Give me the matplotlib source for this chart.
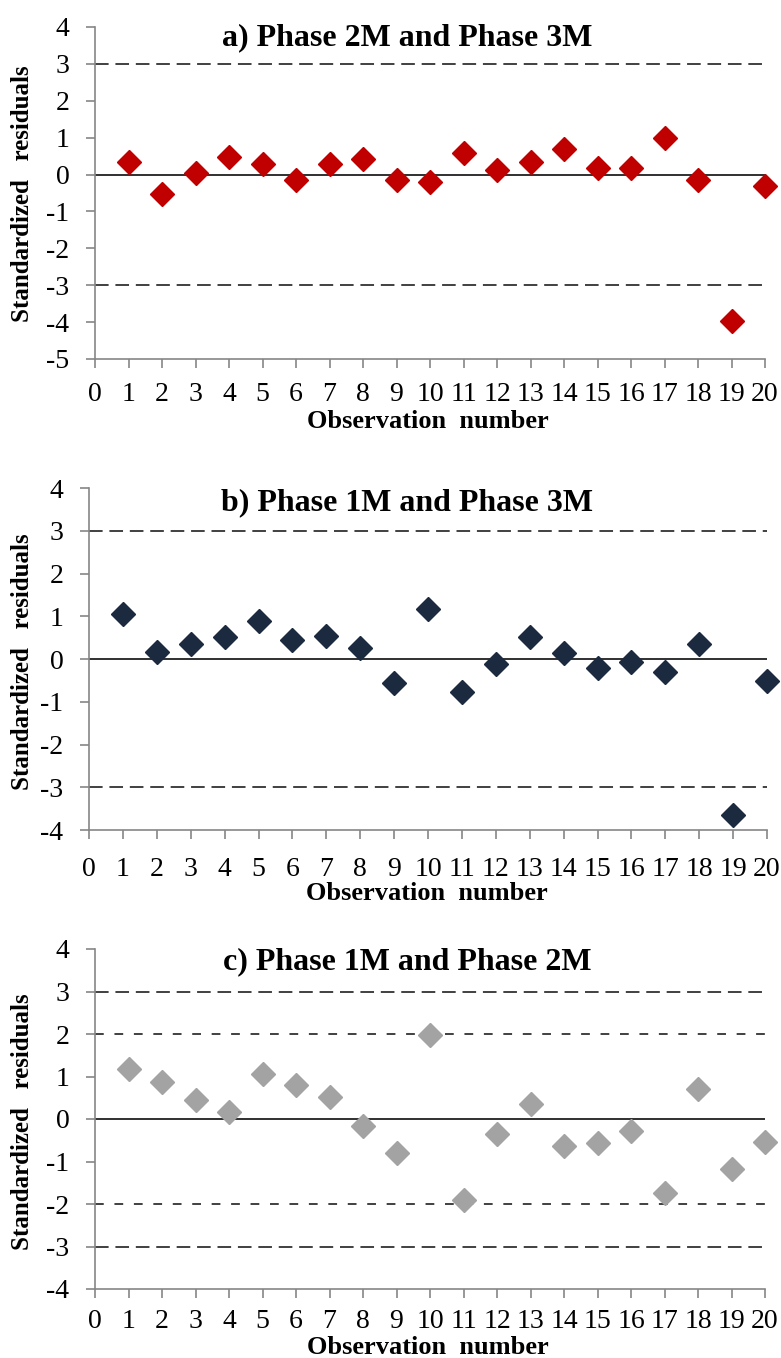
import matplotlib
matplotlib.use("Agg")
import matplotlib.pyplot as plt
import numpy as np

obs = list(range(1, 21))
res_a = [0.35, -0.52, 0.04, 0.47, 0.29, -0.14, 0.29, 0.41, -0.14, -0.21,
         0.59, 0.11, 0.35, 0.69, 0.17, 0.17, 0.99, -0.14, -3.97, -0.32]
res_b = [1.05, 0.17, 0.35, 0.51, 0.90, 0.45, 0.54, 0.25, -0.55, 1.16,
         -0.77, -0.12, 0.51, 0.15, -0.20, -0.06, -0.30, 0.35, -3.64, -0.51]
res_c = [1.18, 0.86, 0.45, 0.16, 1.07, 0.81, 0.51, -0.16, -0.80, 1.97,
         -1.90, -0.35, 0.36, -0.64, -0.56, -0.29, -1.73, 0.71, -1.17, -0.55]

titles = ["a) Phase 2M and Phase 3M", "b) Phase 1M and Phase 3M", "c) Phase 1M and Phase 2M"]
colors = ["#C00000", "#1C2A40", "#A3A3A3"]
ylims = [(-5, 4), (-4, 4), (-4, 4)]
limits = [[-3, 3], [-3, 3], [-3, 3]]
inner_limits = [[], [], [-2, 2]]
series = [res_a, res_b, res_c]

plt.rcParams['font.family'] = ['Liberation Serif', 'DejaVu Serif']
plt.rcParams['axes.unicode_minus'] = False

W, H = 781, 1358
fig = plt.figure(figsize=(W / 100, H / 100), dpi=100)

# pixel boxes: left, right, top, bottom
boxes = [(95, 765, 27, 359), (89, 767, 488, 830), (95, 765, 949, 1289)]
title_pos = [(407, 38), (407, 503), (407, 962)]
ylab_pos = [(23, 194), (23, 662), (23, 1122)]
xlab_pos = [(428, 422), (427, 893), (428, 1348)]
xtick_pad = [10, 13, 8]

for i in range(3):
    l, r, t, b = boxes[i]
    ax = fig.add_axes([l / W, 1 - b / H, (r - l) / W, (b - t) / H])
    ax.set_xlim(0, 20)
    ax.set_ylim(*ylims[i])
    for y in limits[i]:
        ax.axhline(y, color="#404040", lw=1.4, ls=(0, (7, 3.5)), zorder=1)
    for y in inner_limits[i]:
        ax.axhline(y, color="#404040", lw=1.4, ls=(0, (4.5, 5.5)), zorder=1)
    ax.axhline(0, color="#303030", lw=1.4, zorder=1)
    ax.plot(obs, series[i], ls="none", marker="D", ms=12.5, color=colors[i],
            mec=colors[i], zorder=3, clip_on=False)
    for s in ["top", "right"]:
        ax.spines[s].set_visible(False)
    for s in ["left", "bottom"]:
        ax.spines[s].set_color("#868686")
        ax.spines[s].set_linewidth(1.2)
    ax.set_xticks(range(0, 21))
    ax.set_yticks(range(ylims[i][0], ylims[i][1] + 1))
    ax.tick_params(axis="both", colors="#868686", length=6.5, width=1.2,
                   labelcolor="black", labelsize=20)
    ax.tick_params(axis="y", pad=12)
    ax.tick_params(axis="x", pad=xtick_pad[i])
    fig.text(title_pos[i][0] / W, 1 - title_pos[i][1] / H, titles[i],
             ha="center", va="center", fontsize=23, fontweight="bold")
    fig.text(ylab_pos[i][0] / W, 1 - ylab_pos[i][1] / H, "Standardized   residuals",
             ha="center", va="center", rotation=90, fontsize=18, fontweight="bold")
    fig.text(xlab_pos[i][0] / W, 1 - xlab_pos[i][1] / H, "Observation  number",
             ha="center", va="center", fontsize=19, fontweight="bold")

fig.savefig("out.png", dpi=100, facecolor="white")
